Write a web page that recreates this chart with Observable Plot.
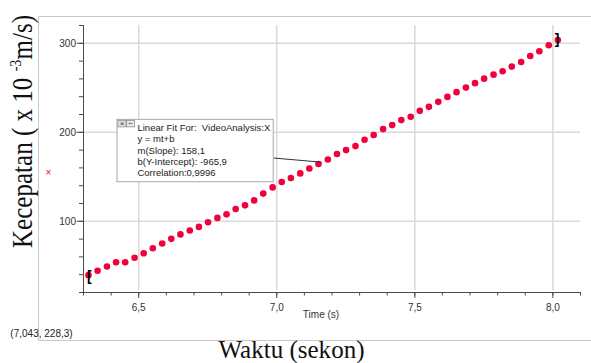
<!DOCTYPE html>
<html>
<head>
<meta charset="utf-8">
<script src="https://cdn.jsdelivr.net/npm/d3@7"></script>
<script src="https://cdn.jsdelivr.net/npm/@observablehq/plot@0.6"></script>
<style>
  html, body { margin: 0; padding: 0; background: #fff; }
  #chart { width: 591px; height: 363px; }
</style>
</head>
<body>
<div id="chart"></div>
<script>
// Video-analysis samples: time (s) and speed (x 10^-3 m/s)
const times = [
  6.318, 6.351, 6.385, 6.418, 6.451, 6.485, 6.518, 6.551, 6.585, 6.618,
  6.651, 6.685, 6.718, 6.751, 6.785, 6.818, 6.851, 6.885, 6.918, 6.951,
  6.985, 7.018, 7.051, 7.085, 7.118, 7.151, 7.185, 7.218, 7.251, 7.285,
  7.318, 7.351, 7.385, 7.418, 7.451, 7.485, 7.518, 7.551, 7.585, 7.618,
  7.651, 7.685, 7.718, 7.751, 7.785, 7.818, 7.851, 7.885, 7.918, 7.951,
  7.985, 8.018
];
const speeds = [
  39.5, 44.4, 49.2, 54.0, 54.0, 59.0, 64.1, 69.7, 75.0, 80.3,
  85.3, 89.6, 93.7, 98.9, 103.8, 107.8, 113.9, 117.9, 123.5, 131.1,
  138.1, 144.2, 148.7, 153.8, 159.4, 164.3, 169.5, 175.6, 180.0, 184.5,
  191.6, 196.9, 203.6, 208.1, 213.7, 217.4, 224.1, 228.6, 234.2, 239.8,
  245.1, 250.2, 255.2, 260.3, 264.8, 268.6, 273.8, 279.0, 285.8, 291.0,
  297.8, 303.7
];

// Axis ticks
const xTicks = [6.5, 7.0, 7.5, 8.0];
const yTicks = [100, 200, 300];

// Linear fit results
const fitSlope = 158.1;
const fitIntercept = -965.9;
const fitLines = [
  "Linear Fit For:  VideoAnalysis:X",
  "y = mt+b",
  "m(Slope): 158,1",
  "b(Y-Intercept): -965,9",
  "Correlation:0,9996"
];
// Where the fit box sits and where its leader touches the fit line (data units)
const fitBox = {t1: 6.423, t2: 6.989, v1: 143.9, v2: 214.0};
const leaderFrom = {t: 6.989, v: 171.1};
const leaderToT = 7.162;

const cursorText = "(7,043, 228,3)";
const xTitle = "Waktu (sekon)";
const xAxisLabel = "Time (s)";

const data = times.map((t, i) => ({t, v: speeds[i]}));
const comma = d => d3.format(".1f")(d).replace(".", ",");
const red = "#f2003c";
const grid = "#d9d9d9";
const axisColor = "#4a4a4a";

const chart = Plot.plot({
  width: 591,
  height: 363,
  marginLeft: 83,
  marginRight: 11,
  marginTop: 25,
  marginBottom: 71,
  style: {fontFamily: "'Liberation Sans', Arial, sans-serif", fontSize: "10px", background: "#fff", color: "#333"},
  x: {domain: [6.3, 8.1]},
  y: {domain: [20, 320]},
  marks: [
    Plot.ruleX(xTicks, {stroke: grid, strokeWidth: 1.5, y1: 22, y2: 320}),
    Plot.ruleY(yTicks, {stroke: grid, strokeWidth: 1.5}),
    // minor ticks
    Plot.axisX({ticks: d3.ticks(6.3, 8.1, 18), tickSize: 3.5, text: null, label: null, stroke: axisColor}),
    Plot.axisY({ticks: d3.ticks(20, 320, 15), tickSize: 4, text: null, label: null, stroke: axisColor}),
    // major ticks with labels
    Plot.axisX({ticks: xTicks, tickSize: 6, tickPadding: 5, tickFormat: comma, label: null, stroke: axisColor, fill: "#333"}),
    Plot.axisY({ticks: yTicks, tickSize: 6.5, tickPadding: 1, label: null, stroke: axisColor, fill: "#333"}),
    Plot.ruleX([6.3], {stroke: axisColor}),
    Plot.ruleY([20], {stroke: axisColor}),
    Plot.text([xAxisLabel], {frameAnchor: "bottom", dx: -11, dy: 25, text: d => d, fill: "#333", fontSize: 10}),
    // data points
    Plot.dot(data, {x: "t", y: "v", r: 3.3, fill: red, stroke: "none"}),
    // fit range brackets
    Plot.text([data[0]], {x: "t", y: "v", text: () => "[", fontSize: 14, fontWeight: "bold", textAnchor: "start", dx: -1.5, dy: 1, fill: "#000"}),
    Plot.text([data[data.length - 1]], {x: "t", y: "v", text: () => "]", fontSize: 14, fontWeight: "bold", textAnchor: "end", dx: 1.5, dy: 0, fill: "#000"}),
    // leader from fit box to the fit line
    Plot.link([leaderFrom], {x1: "t", y1: "v", x2: () => leaderToT, y2: () => fitSlope * leaderToT + fitIntercept, stroke: "#333", strokeWidth: 1}),
    // fit annotation box
    Plot.rect([fitBox], {x1: "t1", x2: "t2", y1: "v1", y2: "v2", fill: "#fff", stroke: "#a8a8a8", strokeWidth: 1}),
    Plot.text([fitLines.join("\n")], {x: () => fitBox.t1, y: () => fitBox.v2, dx: 20, dy: 3.5, lineAnchor: "top", lineHeight: 1.18, textAnchor: "start", fontSize: 9.5, fill: "#222"})
  ]
});

document.getElementById("chart").appendChild(chart);

// Extra decorations drawn into the same SVG
const svg = d3.select(chart);
const sx = chart.scale("x"), sy = chart.scale("y");

// outer panel border
svg.insert("path", ":first-child")
  .attr("d", "M591,16.5H38.5V340.5H591")
  .attr("fill", "none").attr("stroke", "#c8c8c8");

// close / minimise icons on the fit box
const bx = sx.apply(fitBox.t1), by = sy.apply(fitBox.v2);
[["×", 0], ["−", 8.5]].forEach(([g, off]) => {
  svg.append("rect").attr("x", bx + 1 + off).attr("y", by + 1).attr("width", 8).attr("height", 6.5)
    .attr("fill", "#e4e4e4").attr("stroke", "#909090").attr("stroke-width", 0.8);
  svg.append("text").attr("x", bx + 5 + off).attr("y", by + 4.6).attr("text-anchor", "middle")
    .attr("dominant-baseline", "central").attr("font-family", "'Liberation Sans', Arial, sans-serif")
    .attr("font-size", 8).attr("fill", "#333").text(g);
});

// column marker next to the y axis
svg.append("text").attr("x", 48.3).attr("y", 172.3).attr("text-anchor", "middle")
  .attr("dominant-baseline", "central").attr("font-family", "'Liberation Sans', Arial, sans-serif")
  .attr("font-size", 10).attr("fill", red).text("×");

// cursor readout
svg.append("text").attr("x", 41.5).attr("y", 336.5)
  .attr("font-family", "'Liberation Sans', Arial, sans-serif").attr("font-size", 10).attr("fill", "#222")
  .text(cursorText);

// big axis titles
const yTitle = svg.append("text")
  .attr("transform", "translate(32,131.5) rotate(-90)")
  .attr("text-anchor", "middle")
  .attr("font-family", "'Liberation Serif', 'Times New Roman', serif")
  .attr("font-size", 30).attr("fill", "#111")
  .attr("textLength", 233).attr("lengthAdjust", "spacingAndGlyphs");
yTitle.append("tspan").text("Kecepatan ( x 10 ");
yTitle.append("tspan").attr("dy", -11).attr("font-size", 17).text("-3");
yTitle.append("tspan").attr("dy", 11).text("m/s)");

svg.append("text")
  .attr("x", 291.5).attr("y", 358)
  .attr("text-anchor", "middle")
  .attr("font-family", "'Liberation Serif', 'Times New Roman', serif")
  .attr("font-size", 25).attr("fill", "#111")
  .attr("textLength", 146).attr("lengthAdjust", "spacingAndGlyphs")
  .text(xTitle);
</script>
</body>
</html>
